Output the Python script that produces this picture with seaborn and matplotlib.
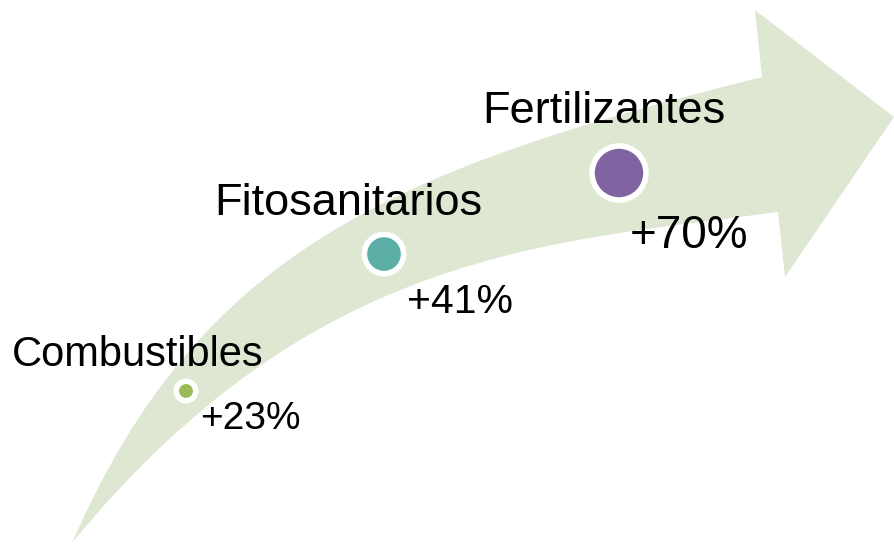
import numpy as np
import pandas as pd
import matplotlib
matplotlib.use("Agg")
import matplotlib.pyplot as plt
from matplotlib.path import Path
from matplotlib.patches import PathPatch
import seaborn as sns

# datos del grafico
categorias = ["Combustibles", "Fitosanitarios", "Fertilizantes"]
incrementos = [23, 41, 70]
etiquetas = ["+23%", "+41%", "+70%"]
colores = ["#9BBB59", "#5BAFA7", "#8064A2"]

# disposicion (pixeles, y hacia abajo)
pos_x = [186, 384, 619]
pos_y = [391, 254, 173]
tam_marcador = {"Combustibles": 197, "Fitosanitarios": 797, "Fertilizantes": 1512}
txt_cat = [(12, 366, 30), (214, 215, 32.5), (482, 123, 32.5)]
txt_pct = [(200, 429, 28), (407, 313, 29.5), (630, 248, 33)]

sns.set_theme(style="white")
plt.rcParams["font.family"] = ["Liberation Sans", "DejaVu Sans"]

fig = plt.figure(figsize=(8.94, 5.44), dpi=100)
ax = fig.add_axes([0, 0, 1, 1])
ax.set_xlim(0, 894)
ax.set_ylim(544, 0)
ax.axis("off")

# flecha curva de fondo
verts = [
    (72, 543),
    (200, 249.6), (393.4, 169.3), (762, 77),
    (755, 10), (894, 117), (785, 277), (778, 212),
    (550, 242.6), (313, 249), (72, 543),
    (72, 543),
]
codes = [Path.MOVETO,
         Path.CURVE4, Path.CURVE4, Path.CURVE4,
         Path.LINETO, Path.LINETO, Path.LINETO, Path.LINETO,
         Path.CURVE4, Path.CURVE4, Path.CURVE4,
         Path.CLOSEPOLY]
ax.add_patch(PathPatch(Path(verts, codes), facecolor="#DEE7D1", edgecolor="none", zorder=0.5))

df = pd.DataFrame({"categoria": categorias, "incremento": incrementos, "x": pos_x, "y": pos_y})
sns.scatterplot(data=df, x="x", y="y", hue="categoria", palette=colores,
                size="categoria", sizes=tam_marcador, edgecolor="white",
                linewidth=4, legend=False, ax=ax, zorder=3)
ax.set_xlim(0, 894)
ax.set_ylim(544, 0)
ax.axis("off")

for cat, (x, y, fs) in zip(categorias, txt_cat):
    ax.text(x, y, cat, fontsize=fs, ha="left", va="baseline", color="black", zorder=4)
for lab, (x, y, fs) in zip(etiquetas, txt_pct):
    ax.text(x, y, lab, fontsize=fs, ha="left", va="baseline", color="black", zorder=4)

fig.savefig("out.png", dpi=100)
